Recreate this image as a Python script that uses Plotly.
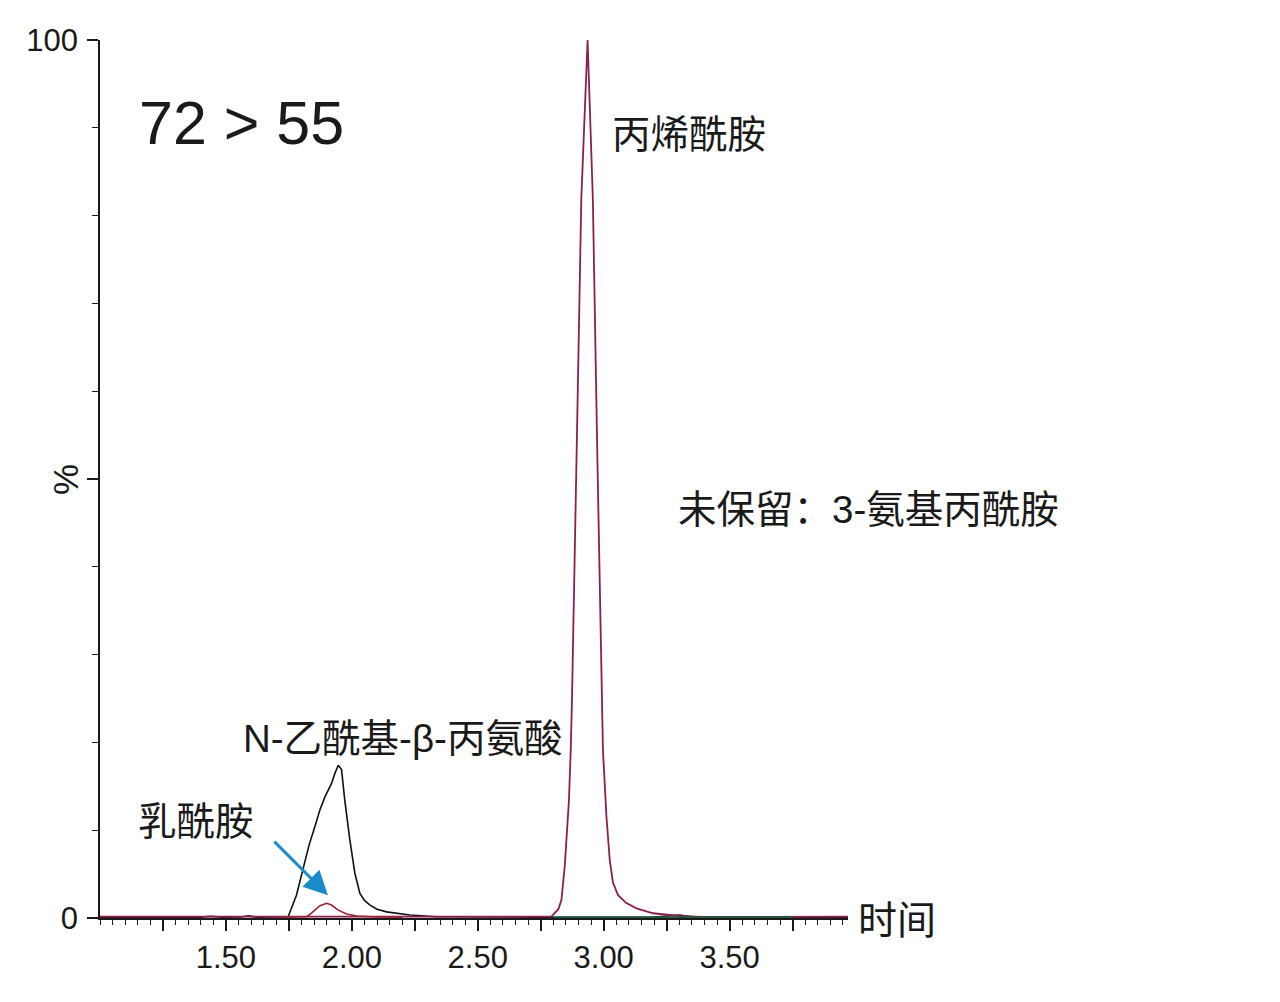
import plotly.graph_objects as go

# ---------------- data ----------------
# black trace (N-乙酰基-β-丙氨酸)
black_t = [1.00, 1.20, 1.40, 1.44, 1.48, 1.56, 1.59, 1.62, 1.70, 1.74, 1.747, 1.78, 1.807, 1.83, 1.853, 1.873,
           1.893, 1.919, 1.933, 1.946, 1.959, 1.972, 1.992, 2.012, 2.032, 2.05, 2.071, 2.10, 2.138,
           2.19, 2.23, 2.336, 2.50, 2.80, 3.20, 3.30, 3.35, 3.60, 3.97]
black_y = [0.10, 0.10, 0.10, 0.20, 0.10, 0.12, 0.25, 0.10, 0.10, 0.10, 0.15, 2.6, 5.8, 8.3, 10.4, 12.3,
           13.8, 15.3, 16.5, 17.4, 16.9, 13.4, 8.9, 5.1, 2.8, 2.0, 1.5, 1.0, 0.7,
           0.5, 0.35, 0.15, 0.10, 0.08, 0.10, 0.35, 0.15, 0.10, 0.08]

# small red peak (乳酰胺)
red_t = [1.70, 1.80, 1.820, 1.835, 1.853, 1.873, 1.900, 1.919, 1.946, 1.979, 2.019, 2.10, 2.20]
red_y = [0.10, 0.12, 0.15, 0.45, 0.90, 1.40, 1.67, 1.48, 0.90, 0.45, 0.23, 0.12, 0.10]

# maroon trace (丙烯酰胺)
acr_t = [1.00, 1.20, 1.45, 1.60, 1.80, 2.20, 2.60, 2.792, 2.82, 2.832, 2.845, 2.854, 2.862, 2.869, 2.874,
         2.892, 2.911, 2.936, 2.957, 2.975, 2.993, 2.997, 3.011, 3.024, 3.037, 3.057, 3.090, 3.130,
         3.196, 3.25, 3.302, 3.407, 3.60, 3.97]
acr_y = [0.15, 0.15, 0.15, 0.15, 0.15, 0.15, 0.15, 0.15, 1.0, 2.05, 5.8, 9.7, 13.4, 19.1, 24.8,
         52.2, 81.8, 100.0, 81.8, 52.2, 22.6, 19.1, 11.5, 6.6, 4.0, 2.6, 1.7, 1.1,
         0.54, 0.40, 0.23, 0.11, 0.15, 0.15]

# green flat trace
green_t = [2.80, 3.00, 3.40, 3.75]
green_y = [0.08, 0.08, 0.08, 0.08]

x_major = [1.25, 1.50, 1.75, 2.00, 2.25, 2.50, 2.75, 3.00, 3.25, 3.50, 3.75]
x_labels = ["", "1.50", "", "2.00", "", "2.50", "", "3.00", "", "3.50", ""]
y_major = [0, 50, 100]
y_labels = ["0", "", "100"]

# ---------------- figure ----------------
W, H = 1280, 1002
OFF = 8  # page body margin offset
L, R, T, B = 100, 848, 40, 918


def px(xp):
    return (xp - L) / (R - L)


def py(yp):
    return (B - yp) / (B - T)


fig = go.Figure()
fig.add_trace(go.Scatter(x=black_t, y=black_y, mode="lines",
                         line=dict(color="#111111", width=1.6), hoverinfo="skip"))
fig.add_trace(go.Scatter(x=acr_t, y=acr_y, mode="lines",
                         line=dict(color="#8a1f52", width=1.8), hoverinfo="skip"))
fig.add_trace(go.Scatter(x=green_t, y=green_y, mode="lines",
                         line=dict(color="#24583a", width=2.0), hoverinfo="skip"))
fig.add_trace(go.Scatter(x=red_t, y=red_y, mode="lines",
                         line=dict(color="#9b2430", width=1.6), hoverinfo="skip"))

lat = "Liberation Sans, Arial, sans-serif"
cjk = "Liberation Sans, Noto Sans CJK SC, sans-serif"

fig.update_layout(
    width=W, height=H,
    margin=dict(l=L - OFF, r=W - R + OFF, t=T - OFF, b=H - B + OFF),
    paper_bgcolor="white", plot_bgcolor="white",
    showlegend=False,
    font=dict(family=lat, color="#1a1a1a"),
    xaxis=dict(
        range=[1.0, 3.97], showgrid=False, zeroline=False,
        showline=True, linecolor="#1a1a1a", linewidth=1.5,
        layer="below traces", automargin=False,
        tickmode="array", tickvals=x_major, ticktext=x_labels,
        ticks="outside", ticklen=11, tickwidth=1.5, tickcolor="#1a1a1a",
        tickfont=dict(size=31, family=lat, color="#1a1a1a"),
        ticklabelstandoff=0,
        minor=dict(dtick=0.05, tick0=1.0, ticks="outside", ticklen=5,
                   tickwidth=1.2, tickcolor="#1a1a1a", showgrid=False),
    ),
    yaxis=dict(
        range=[0, 100], showgrid=False, zeroline=False,
        showline=True, linecolor="#1a1a1a", linewidth=1.5,
        layer="below traces", automargin=False,
        tickmode="array", tickvals=y_major, ticktext=y_labels,
        ticks="outside", ticklen=11, tickwidth=1.5, tickcolor="#1a1a1a",
        tickfont=dict(size=31, family=lat, color="#1a1a1a"),
        ticklabelstandoff=3,
        minor=dict(dtick=10, tick0=0, ticks="outside", ticklen=6,
                   tickwidth=1.2, tickcolor="#1a1a1a", showgrid=False),
    ),
)

ann = [
    ("72 > 55", 137, 123, 61, lat),
    ("丙烯酰胺", 610, 135, 38.5, cjk),
    ("未保留：3-氨基丙酰胺", 676, 509, 38.5, cjk),
    ("N-乙酰基-β-丙氨酸", 241, 738, 38.5, cjk),
    ("乳酰胺", 136, 821, 38.5, cjk),
    ("时间", 856, 920, 39, cjk),
]
for text, x0, yc, size, fam in ann:
    fig.add_annotation(text=text, xref="paper", yref="paper", x=px(x0), y=py(yc),
                       xanchor="left", yanchor="middle", showarrow=False,
                       font=dict(size=size, family=fam, color="#1a1a1a"))

# y axis title "%"
fig.add_annotation(text="%", xref="paper", yref="paper", x=px(66), y=py(480),
                   xanchor="center", yanchor="middle", showarrow=False, textangle=-90,
                   font=dict(size=35, family=lat, color="#1a1a1a"))

# blue arrow pointing to the small peak
fig.add_annotation(text="", x=1.905, y=2.6, xref="x", yref="y",
                   ax=-55, ay=-55, axref="pixel", ayref="pixel",
                   showarrow=True, arrowhead=2, arrowsize=1.6, arrowwidth=3,
                   arrowcolor="#1b8ccb")

fig.write_html("out.html")
